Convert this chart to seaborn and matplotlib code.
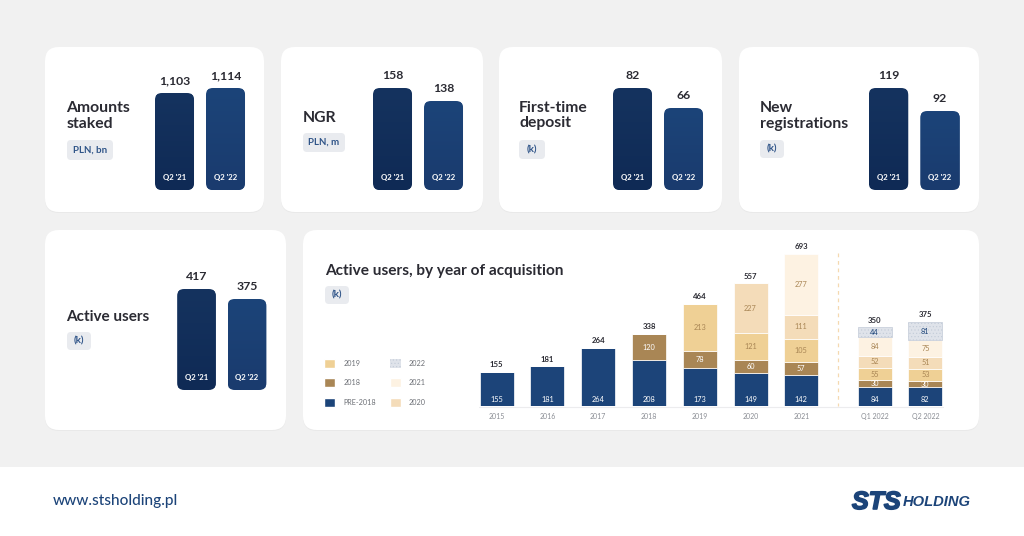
import matplotlib
matplotlib.use("Agg")
import numpy as np
import matplotlib.pyplot as plt
import matplotlib.patheffects as pe
import seaborn as sns
from matplotlib.patches import FancyBboxPatch, Rectangle, Patch
from matplotlib.colors import LinearSegmentedColormap

# ---------- data ----------
periods = ["Q2 '21", "Q2 '22"]
amounts_staked = [1103, 1114]
ngr = [158, 138]
first_time_deposit = [82, 66]
new_registrations = [119, 92]
active_users = [417, 375]

years = ["2015", "2016", "2017", "2018", "2019", "2020", "2021"]
quarters = ["Q1 2022", "Q2 2022"]
y_pre = [155, 181, 264, 208, 173, 149, 142]
y_2018 = [0, 0, 0, 120, 78, 60, 57]
y_2019 = [0, 0, 0, 0, 213, 121, 105]
y_2020 = [0, 0, 0, 0, 0, 227, 111]
y_2021 = [0, 0, 0, 0, 0, 0, 277]
y_total = [155, 181, 264, 338, 464, 557, 693]
q_pre = [84, 82]
q_2018 = [30, 30]
q_2019 = [55, 53]
q_2020 = [52, 51]
q_2021 = [84, 75]
q_2022 = [44, 81]
q_total = [350, 375]

NAVY = "#1c4479"
INK = "#2b2b33"
BROWN = "#a98655"
C_PRE, C_18, C_19, C_20, C_21, C_22 = NAVY, BROWN, "#efd095", "#f4dcb9", "#fdf2e2", "#dfe3ea"

sns.set_theme(style="white")
plt.rcParams["font.family"] = ["Lato", "DejaVu Sans"]
plt.rcParams["hatch.linewidth"] = 0.4

W, H = 1024, 536
fig = plt.figure(figsize=(W / 100, H / 100), dpi=100, facecolor="#f1f1f1")

over = fig.add_axes([0, 0, 1, 1], zorder=0)
over.set_xlim(0, W)
over.set_ylim(H, 0)
over.axis("off")


def px_axes(x0, y0, x1, y1, zorder=2):
    ax = fig.add_axes([x0 / W, 1 - y1 / H, (x1 - x0) / W, (y1 - y0) / H], zorder=zorder)
    ax.patch.set_visible(False)
    ax.set_frame_on(False)
    ax.set_yticks([])
    return ax


def rbox(x0, y0, x1, y1, r, **kw):
    return FancyBboxPatch((x0 + r, y0 + r), x1 - x0 - 2 * r, y1 - y0 - 2 * r,
                          boxstyle=f"round,pad={r},rounding_size={r}",
                          transform=over.transData, **kw)


# footer + cards
over.add_patch(Rectangle((0, 467), W, H - 467, color="white", lw=0))
for c in [(45, 47, 264, 212), (281, 47, 483, 212), (499, 47, 722, 212), (739, 47, 979, 212),
          (45, 230, 286, 430), (303, 230, 979, 430)]:
    over.add_patch(rbox(c[0], c[1] + 1, c[2], c[3] + 1, 14, fc="#e9e9e9", ec="none"))
    over.add_patch(rbox(*c, 14, fc="white", ec="none"))


def chip(x0, y0, x1, y1, label):
    over.add_patch(rbox(x0, y0, x1, y1, 4, fc="#e9ebef", ec="none"))
    over.text((x0 + x1) / 2, (y0 + y1) / 2, label, ha="center", va="center",
              fontsize=7, fontweight="bold", color="#2f5488")


def heading(x, y, s, size=11.3):
    over.text(x, y, s, ha="left", va="center", fontsize=size, fontweight="bold",
              color=INK, linespacing=1.15)


heading(66.5, 116, "Amounts\nstaked")
chip(67, 140, 113, 160, "PLN, bn")
heading(303, 118, "NGR")
chip(303, 133, 345, 152, "PLN, m")
heading(519, 115.5, "First-time\ndeposit")
chip(519, 140, 545, 159, "(k)")
heading(760, 116, "New\nregistrations")
chip(760, 140, 784, 158, "(k)")
heading(66.5, 317, "Active users", size=11)
chip(67, 332, 91, 350, "(k)")
heading(325, 271, "Active users, by year of acquisition", size=11.1)
chip(325, 286, 349, 304, "(k)")

cm_l = LinearSegmentedColormap.from_list("l", ["#15335f", "#0f2a55"])
cm_r = LinearSegmentedColormap.from_list("r", ["#1c4479", "#1a3b6e"])
grad = np.linspace(0, 1, 64).reshape(-1, 1)


def kpi(values, c1, c2, base_y, tops, r=7):
    """Two rounded gradient bars; tops gives the pixel height scale of the card."""
    spacing = c2 - c1
    x0, x1 = c1 - spacing / 2, c2 + spacing / 2
    ax = px_axes(x0, base_y - 150, x1, base_y)
    sns.barplot(x=periods, y=values, hue=periods, palette=["#15335f", "#1c4479"],
                legend=False, width=0.765, ax=ax, saturation=1)
    k = (tops[1] - tops[0]) / (values[1] - values[0])
    low = values[0] - tops[0] / k
    ax.set_ylim(low, low + 150 / k)
    ax.set_xlim(-0.5, 1.5)
    ax.set_xlabel("")
    ax.set_ylabel("")
    ax.set_axisbelow(False)
    ax.tick_params(axis="x", length=0, pad=-11.4, labelsize=5.6, labelcolor="white")
    for t in ax.get_xticklabels():
        t.set_fontweight("bold")
    for i, p in enumerate(sorted(ax.patches, key=lambda b: b.get_x())):
        if p.get_height() == 0:
            continue
        bx0, bx1 = p.get_x(), p.get_x() + p.get_width()
        to_over = ax.transData + over.transData.inverted()
        (px0, ptop), (px1, pbot) = to_over.transform([(bx0, p.get_height()), (bx1, low)])
        clip = rbox(px0, ptop, px1, pbot, r)
        p.set_clip_path(clip)
        im = ax.imshow(grad, extent=[bx0, bx1, low, p.get_height()], aspect="auto",
                       cmap=cm_l if i == 0 else cm_r, zorder=2, origin="upper",
                       interpolation="bilinear")
        im.set_clip_path(clip)
        ax.annotate(f"{values[i]:,}", (i, values[i]), xytext=(0, 9), textcoords="offset points",
                    ha="center", va="center", fontsize=8.8, fontweight="bold", color=INK,
                    annotation_clip=False)
    ax.set_ylim(low, low + 150 / k)
    ax.set_xlim(-0.5, 1.5)


kpi(amounts_staked, 174.5, 225.5, 190, (97, 102))
kpi(ngr, 392.5, 443.5, 190, (102, 89))
kpi(first_time_deposit, 632.5, 683.5, 190, (102, 82))
kpi(new_registrations, 888.5, 940, 190, (102, 79))
kpi(active_users, 196.5, 247, 390, (101, 91))

# ---------- stacked chart ----------
TOP_PX = 156
ax_y = px_axes(471.3, 406 - TOP_PX, 826.7, 406)
ax_q = px_axes(849.3, 406 - TOP_PX, 950.7, 406)


def stack(ax, cats, layers, totals, scale):
    bottom = np.zeros(len(cats))
    for vals, color, lab_col, kind, hatch in layers:
        vals = np.array(vals, dtype=float)
        sns.barplot(x=cats, y=vals, bottom=bottom, color=color, saturation=1, width=0.67,
                    ax=ax, edgecolor="white", linewidth=0.5, hatch=hatch)
        for i, v in enumerate(vals):
            if v == 0:
                continue
            if kind == "base":
                ax.annotate(f"{int(v)}", (i, 0), xytext=(0, 4.6), textcoords="offset points",
                            ha="center", va="center", fontsize=5.3, color=lab_col)
            else:
                ax.annotate(f"{int(v)}", (i, bottom[i] + v / 2), ha="center", va="center",
                            fontsize=5.3, color=lab_col)
        bottom = bottom + vals
    for i, t in enumerate(totals):
        ax.annotate(f"{t}", (i, bottom[i]), xytext=(0, 5), textcoords="offset points",
                    ha="center", va="center", fontsize=5.6, fontweight="bold", color=INK,
                    annotation_clip=False)
    ax.set_ylim(0, TOP_PX / scale)
    ax.set_xlim(-0.5, len(cats) - 0.5)
    ax.set_xlabel("")
    ax.set_ylabel("")
    ax.tick_params(axis="x", length=0, pad=5, labelsize=5, labelcolor="#8a8d94")


stack(ax_y, years, [
    (y_pre, C_PRE, "white", "base", None),
    (y_2018, C_18, "white", "mid", None),
    (y_2019, C_19, BROWN, "mid", None),
    (y_2020, C_20, BROWN, "mid", None),
    (y_2021, C_21, BROWN, "mid", None),
], y_total, 0.22)
stack(ax_q, quarters, [
    (q_pre, C_PRE, "white", "base", None),
    (q_2018, C_18, "white", "mid", None),
    (q_2019, C_19, BROWN, "mid", None),
    (q_2020, C_20, BROWN, "mid", None),
    (q_2021, C_21, BROWN, "mid", None),
    (q_2022, C_22, NAVY, "mid", "....."),
], q_total, 0.226)
for p in ax_q.patches:
    if p.get_hatch():
        p.set_edgecolor("#c3cbd8")

over.plot([479, 943], [406.5, 406.5], color="#ececee", lw=0.8)
over.plot([838.3, 838.3], [253, 406], color="#f5d9b0", lw=0.9, ls=(0, (3, 3)))

# legend
handles = [Patch(fc=C_19, label="2019"), Patch(fc=C_18, label="2018"), Patch(fc=C_PRE, label="PRE-2018"),
           Patch(fc=C_22, label="2022", hatch=".....", ec="#c3cbd8", lw=0),
           Patch(fc=C_21, label="2021"), Patch(fc=C_20, label="2020")]
leg = over.legend(handles=handles, ncol=2, frameon=False, fontsize=5.2,
                  loc="upper left", bbox_to_anchor=(322 / W, 1 - 356.5 / H),
                  borderaxespad=0, borderpad=0.3, handlelength=1.55, handleheight=1.55,
                  handletextpad=1.1, labelspacing=1.45, columnspacing=1.9, labelcolor="#6d7076")

# footer text
over.text(53, 501, "www.stsholding.pl", ha="left", va="center", fontsize=11.1,
          fontweight="medium", color=NAVY)
over.text(852, 502, "STS", ha="left", va="center", fontsize=18, color=NAVY,
          fontweight="bold", fontstyle="italic", family=["Liberation Sans", "DejaVu Sans"],
          path_effects=[pe.withStroke(linewidth=1.2, foreground=NAVY)])
over.text(903, 502, "HOLDING", ha="left", va="center", fontsize=10.6, color=NAVY,
          fontweight="bold", fontstyle="italic", family=["Liberation Sans", "DejaVu Sans"])

fig.savefig("out.png", dpi=100, facecolor=fig.get_facecolor())
